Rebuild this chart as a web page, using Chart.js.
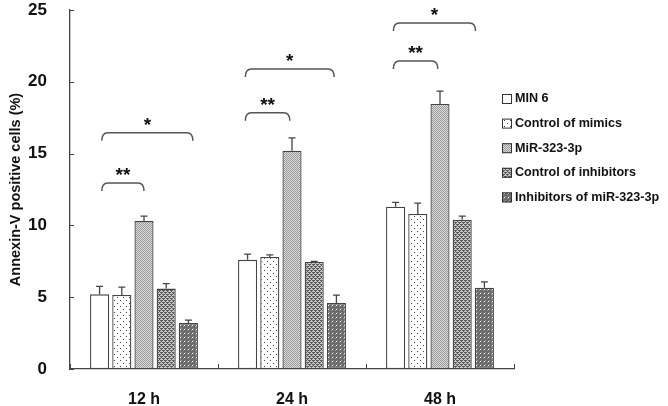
<!DOCTYPE html>
<html>
<head>
<meta charset="utf-8">
<script src="https://cdn.jsdelivr.net/npm/chart.js@4/dist/chart.umd.min.js"></script>
<style>
  body { margin: 0; background: #fff; }
  #chart { display: block; }
</style>
</head>
<body>
<canvas id="chart" width="668" height="406"></canvas>
<script>
// ======== Data ========
const categories = ['12 h', '24 h', '48 h'];
const seriesNames = ['MIN 6', 'Control of mimics', 'MiR-323-3p', 'Control of inhibitors', 'Inhibitors of miR-323-3p'];

const min6 = [5.2, 7.6, 11.3];
const min6Err = [0.55, 0.4, 0.3];
const ctrlMimics = [5.15, 7.8, 10.8];
const ctrlMimicsErr = [0.55, 0.15, 0.75];
const mir323 = [10.3, 15.2, 18.45];
const mir323Err = [0.35, 0.9, 0.9];
const ctrlInhib = [5.6, 7.45, 10.4];
const ctrlInhibErr = [0.35, 0.05, 0.25];
const inhib = [3.2, 4.6, 5.65];
const inhibErr = [0.2, 0.55, 0.42];

const yTicks = [0, 5, 10, 15, 20, 25];

// significance brackets: category, from/to bar index, level, label
const bracketCat = [0, 0, 1, 1, 2, 2];
const bracketFrom = [0.1, 0.1, -0.1, -0.1, -0.1, -0.1];
const bracketTo = [2.0, 4.2, 1.9, 3.9, 1.9, 3.6];
const bracketLevel = [12.95, 16.45, 17.85, 20.9, 21.45, 24.1];
const bracketLabel = ['**', '*', '**', '*', '**', '*'];

const FONT = '"Liberation Sans", Arial, sans-serif';
const INK = '#444';

// ======== Patterns ========
function makePattern(size, draw) {
  const c = document.createElement('canvas');
  c.width = size; c.height = size;
  const g = c.getContext('2d');
  draw(g);
  return document.createElement('canvas').getContext('2d').createPattern(c, 'repeat');
}

const patterns = [
  '#ffffff',
  makePattern(6, g => {
    g.fillStyle = '#fff'; g.fillRect(0, 0, 6, 6);
    g.fillStyle = '#444';
    g.fillRect(0, 0, 1, 1); g.fillRect(3, 3, 1, 1);
  }),
  makePattern(2, g => {
    g.fillStyle = '#dcdcdc'; g.fillRect(0, 0, 2, 2);
    g.fillStyle = '#9a9a9a'; g.fillRect(0, 0, 1, 1); g.fillRect(1, 1, 1, 1);
  }),
  makePattern(4, g => {
    g.fillStyle = '#c8c8c8'; g.fillRect(0, 0, 4, 4);
    g.fillStyle = '#5a5a5a';
    g.fillRect(0, 0, 2, 1); g.fillRect(2, 2, 2, 1);
    g.fillRect(1, 1, 1, 1); g.fillRect(3, 3, 1, 1);
    g.fillRect(0, 2, 1, 1); g.fillRect(2, 0, 1, 1);
  }),
  makePattern(4, g => {
    g.fillStyle = '#6a6a6a'; g.fillRect(0, 0, 4, 4);
    g.fillStyle = '#9a9a9a'; g.fillRect(1, 0, 1, 1); g.fillRect(3, 2, 1, 1);
    g.fillStyle = '#ffffff'; g.fillRect(0, 1, 1, 1);
  })
];

const values = [min6, ctrlMimics, mir323, ctrlInhib, inhib];
const errors = [min6Err, ctrlMimicsErr, mir323Err, ctrlInhibErr, inhibErr];

// ======== Plugins ========
const errorBars = {
  id: 'errorBars',
  afterDatasetsDraw(chart) {
    const y = chart.scales.y;
    const c = chart.ctx;
    c.save();
    c.strokeStyle = INK;
    c.lineWidth = 1.3;
    chart.data.datasets.forEach((ds, i) => {
      chart.getDatasetMeta(i).data.forEach((bar, j) => {
        const top = y.getPixelForValue(ds.data[j] + errors[i][j]);
        c.beginPath();
        c.moveTo(bar.x, bar.y);
        c.lineTo(bar.x, top);
        c.moveTo(bar.x - 3.5, top);
        c.lineTo(bar.x + 3.5, top);
        c.stroke();
      });
    });
    c.restore();
  }
};

function barX(chart, cat, pos) {
  const i = Math.max(0, Math.min(3, Math.floor(pos)));
  const a = chart.getDatasetMeta(i).data[cat].x;
  const b = chart.getDatasetMeta(i + 1).data[cat].x;
  return a + (b - a) * (pos - i);
}

const extras = {
  id: 'extras',
  afterDraw(chart) {
    const c = chart.ctx;
    const y = chart.scales.y;
    const area = chart.chartArea;
    c.save();

    // inward ticks
    c.strokeStyle = INK;
    c.lineWidth = 1;
    yTicks.forEach(v => {
      const py = Math.round(y.getPixelForValue(v)) + 0.5;
      c.beginPath(); c.moveTo(area.left, py); c.lineTo(area.left + 4, py); c.stroke();
    });
    for (let k = 0; k <= categories.length; k++) {
      const px = Math.round(area.left + (area.right - area.left) * k / categories.length) + 0.5;
      c.beginPath(); c.moveTo(px, area.bottom); c.lineTo(px, area.bottom - 5); c.stroke();
    }

    // brackets
    c.strokeStyle = '#555';
    c.lineWidth = 1.5;
    c.fillStyle = '#111';
    c.textAlign = 'center';
    c.textBaseline = 'middle';
    c.font = 'bold 19px ' + FONT;
    bracketCat.forEach((cat, k) => {
      const x1 = barX(chart, cat, bracketFrom[k]);
      const x2 = barX(chart, cat, bracketTo[k]);
      const py = y.getPixelForValue(bracketLevel[k]);
      const r = 6;
      c.beginPath();
      c.moveTo(x1, py + 8);
      c.quadraticCurveTo(x1, py, x1 + r, py);
      c.lineTo(x2 - r, py);
      c.quadraticCurveTo(x2, py, x2, py + 8);
      c.stroke();
      c.fillText(bracketLabel[k], (x1 + x2) / 2, py - 7);
    });

    // legend
    c.font = 'bold 12.6px ' + FONT;
    c.textAlign = 'left';
    c.textBaseline = 'middle';
    c.lineWidth = 1;
    seriesNames.forEach((name, i) => {
      const cy = 99 + i * 24.6;
      c.fillStyle = patterns[i];
      c.fillRect(502, cy - 5, 10, 10);
      c.strokeStyle = '#333';
      c.strokeRect(502.5, cy - 4.5, 9, 9);
      c.fillStyle = '#111';
      c.fillText(name, 515, cy);
    });
    c.restore();
  }
};

// ======== Chart ========
new Chart(document.getElementById('chart'), {
  type: 'bar',
  data: {
    labels: categories,
    datasets: seriesNames.map((name, i) => ({
      label: name,
      data: values[i],
      backgroundColor: patterns[i],
      borderColor: INK,
      borderWidth: 1.3,
      borderSkipped: false,
      categoryPercentage: 0.75,
      barPercentage: 0.86
    }))
  },
  options: {
    responsive: false,
    animation: false,
    layout: { padding: { left: 0, right: 154, top: 10, bottom: 0 } },
    plugins: { legend: { display: false }, tooltip: { enabled: false } },
    scales: {
      x: {
        grid: { display: false },
        border: { color: INK, width: 1.3 },
        ticks: { color: '#111', font: { family: FONT, size: 16, weight: 'bold' }, padding: 13 },
        afterFit(s) { s.height = 37; s.paddingLeft = 0; s.paddingRight = 0; }
      },
      y: {
        min: 0,
        max: 25,
        grid: { display: false },
        border: { color: INK, width: 1.3 },
        afterBuildTicks(s) { s.ticks = yTicks.map(v => ({ value: v })); },
        ticks: { color: '#111', font: { family: FONT, size: 17, weight: 'bold' }, padding: 15 },
        title: {
          display: true,
          text: 'Annexin-V positive cells (%)',
          color: '#111',
          font: { family: FONT, size: 14.5, weight: 'bold' },
          padding: { top: 7, bottom: 0 }
        },
        afterFit(s) { s.width = 70; s.paddingTop = 0; s.paddingBottom = 0; }
      }
    }
  },
  plugins: [errorBars, extras]
});
</script>
</body>
</html>
